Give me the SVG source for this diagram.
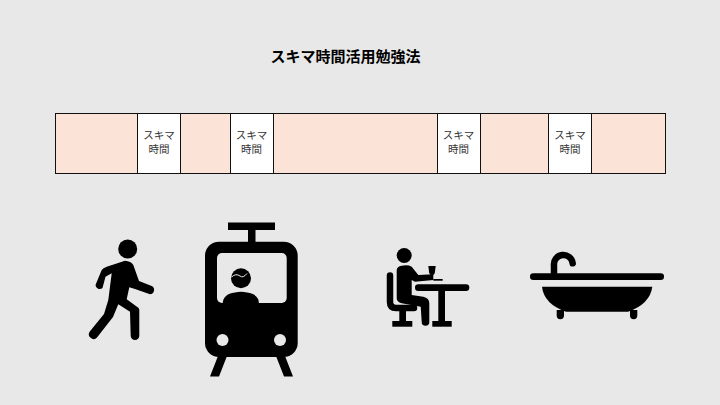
<svg xmlns="http://www.w3.org/2000/svg" width="720" height="405" viewBox="0 0 720 405">
<style>
text{font-family:"Noto Sans CJK JP","Liberation Sans",sans-serif;text-anchor:middle}
.t{font-size:15px;font-weight:700;fill:#000}
.l{font-size:10.500px;fill:#333}
.p{fill:#fce3d8;stroke:#111;stroke-width:1}
.g{fill:#fff;stroke:#111;stroke-width:1}
.s{fill:none;stroke:#000;stroke-linecap:round;stroke-linejoin:round}
</style>
<rect width="720" height="405" fill="#e8e8e8"/>
<text class="t" x="345.500" y="62">スキマ時間活用勉強法</text>
<g id="bar">
<rect class="p" x="55.500" y="113.500" width="82" height="60"/>
<rect class="g" x="137.500" y="113.500" width="43" height="60"/>
<rect class="p" x="180.500" y="113.500" width="50" height="60"/>
<rect class="g" x="230.500" y="113.500" width="43" height="60"/>
<rect class="p" x="273.500" y="113.500" width="164" height="60"/>
<rect class="g" x="437.500" y="113.500" width="43" height="60"/>
<rect class="p" x="480.500" y="113.500" width="68" height="60"/>
<rect class="g" x="548.500" y="113.500" width="43" height="60"/>
<rect class="p" x="591.500" y="113.500" width="74" height="60"/>
<text class="l" x="159" y="139">スキマ</text><text class="l" x="159" y="152.500">時間</text>
<text class="l" x="251.500" y="139">スキマ</text><text class="l" x="251.500" y="152.500">時間</text>
<text class="l" x="458.500" y="139">スキマ</text><text class="l" x="458.500" y="152.500">時間</text>
<text class="l" x="570" y="139">スキマ</text><text class="l" x="570" y="152.500">時間</text>
</g>
<g id="walker">
<circle cx="127.700" cy="249" r="9.500"/>
<path d="M125 260.700 Q131 261 133.300 265 L139 281 L151.700 286 A4.400 4.400 0 0 1 150 294.300 L135 289 L129.300 287.300 L126.700 299.300 L138.300 307.700 Q139.300 308.500 139.300 310 L139.300 335.700 A4.300 4.300 0 0 1 130.700 335.700 L130 311.700 L118.300 304.300 L113 317 L97 337.500 A4.700 4.700 0 0 1 89.800 331.500 L104 314 L108.300 300 L111.700 273.300 L105.500 276.700 L102.500 288 A4.200 4.200 0 0 1 95.500 285 L101.700 270 Q103 268 106.700 266.700Z"/>
</g>
<g id="train">
<rect x="228" y="222.500" width="47" height="7.500"/>
<rect x="248" y="230" width="7.500" height="13"/>
<rect x="205" y="241.700" width="92.700" height="115.300" rx="14"/>
<rect x="217" y="253" width="69.700" height="50" rx="5" fill="#e8e8e8"/>
<path d="M240 253 Q241 249.500 245 249.500 H261 Q264 249.500 265 253Z"/>
<circle cx="241" cy="278.300" r="10"/>
<path d="M231.500 277 Q236 273 240 276 Q243 278.500 247 273.500" fill="none" stroke="#e8e8e8" stroke-width="1"/>
<path d="M222.700 304 Q222.700 294 235 292.500 Q241 291 247 292.500 Q259 294 259 304Z"/>
<circle cx="222.500" cy="340" r="6" fill="#e8e8e8"/>
<circle cx="280" cy="340" r="6" fill="#e8e8e8"/>
<path d="M218 356 L210 376.500 H219 L227 356Z M276 356 L284 376.500 H293 L285 356Z"/>
</g>
<g id="diner">
<circle cx="404.200" cy="255.500" r="7.500"/>
<path d="M401.700 265.700 Q408 264.500 411.700 266.700 L418.300 275 L433.300 274.300 V280 L415 281.700 L411.700 280 V295 L423.300 296.700 Q429.300 298 429.300 303.300 V322 A3.800 3.800 0 0 1 421.700 322 L420.700 306.700 L401.700 303.300 Q396.700 302 396.700 298.300 V270 Q397 266.500 401.700 265.700Z"/>
<path class="s" stroke-width="6.500" d="M390 275.500 V302 Q390 308 396 308 H414"/>
<rect x="399.300" y="310" width="6.700" height="12"/>
<rect x="392.300" y="321" width="20" height="5.700"/>
<rect x="415" y="284.300" width="54.300" height="6.700" rx="3.300"/>
<rect x="438.300" y="290" width="6.700" height="32"/>
<rect x="432.300" y="321" width="19.400" height="5.700"/>
<path d="M428.300 266 H435.700 L434.800 273 Q434 275 432.700 275.300 V279 H431.300 V275.300 Q430 275 429.200 273Z"/>
<rect x="433.300" y="279" width="9.400" height="1.700"/>
</g>
<g id="bath">
<rect x="530" y="273.300" width="134" height="6.700" rx="3.300"/>
<path class="s" stroke-width="6.500" d="M554 273 V265.500 A9.300 9.300 0 0 1 572.700 263.300"/>
<path d="M542 286.700 H652.300 Q650 304 628 311.700 H566 Q544 304 542 286.700Z"/>
<path d="M556.700 310 H564 V315.500 A3.600 3.600 0 0 1 556.700 315.500Z M630 310 H637.300 V315.500 A3.600 3.600 0 0 1 630 315.500Z"/>
</g>
</svg>
